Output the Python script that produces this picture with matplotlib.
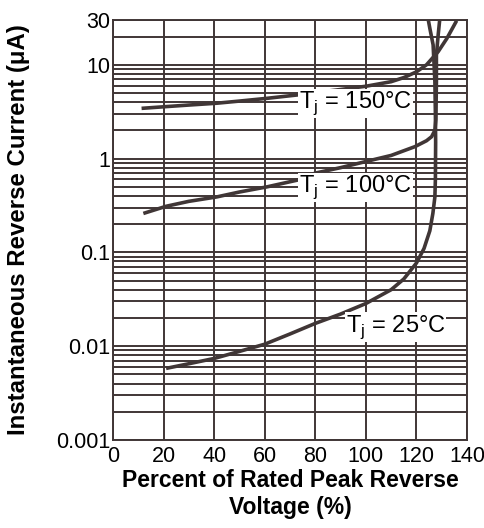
import numpy as np
import matplotlib
matplotlib.use('Agg')
import matplotlib.pyplot as plt
from matplotlib.ticker import LogLocator, FixedLocator, NullFormatter

# 데이터
x_25 = [21, 30, 40, 50, 60, 70, 80, 90, 100, 110, 115, 120, 123, 125.3, 126.5, 127.3, 127.5, 127.6, 127.5, 127.3, 126.6, 125.3, 124.7]
i_25 = [0.0058, 0.0065, 0.0074, 0.0088, 0.0105, 0.0135, 0.0175, 0.022, 0.0285, 0.04, 0.052, 0.077, 0.11, 0.17, 0.26, 0.39, 0.6, 1.5, 3.0, 6.6, 16.3, 24.5, 30]

x_100 = [12, 21, 30, 41, 50, 61, 73, 80, 90, 100, 110, 119.4, 124, 126, 127.3, 127.7, 127.9, 127.9, 128.6, 129.2]
i_100 = [0.26, 0.31, 0.35, 0.39, 0.44, 0.50, 0.59, 0.70, 0.80, 0.93, 1.08, 1.34, 1.55, 1.71, 2.0, 2.6, 6.6, 12.7, 20.8, 30]

x_150 = [11.3, 21, 30, 41, 50, 61, 73, 80, 90, 100, 110, 115, 120, 124, 128.6, 132, 135.9]
i_150 = [3.43, 3.58, 3.72, 3.89, 4.1, 4.39, 4.77, 5.05, 5.45, 5.9, 6.6, 7.3, 8.4, 10.0, 13.8, 19.0, 29.5]

x_ticks = [0, 20, 40, 60, 80, 100, 120, 140]
y_ticks = [0.001, 0.01, 0.1, 1, 10, 30]
y_tick_labels = ['0.001', '0.01', '0.1', '1', '10', '30']

labels = ['T$_\\mathregular{j}$ = 25°C', 'T$_\\mathregular{j}$ = 100°C', 'T$_\\mathregular{j}$ = 150°C']
label_pos = [(92, 0.016), (73.5, 0.49), (73.5, 3.9)]

plt.rcParams['font.family'] = ['Liberation Sans', 'DejaVu Sans']
line_color = '#403636'

fig = plt.figure(figsize=(4.85, 5.28), dpi=100)
ax = fig.add_axes([113 / 485, 1 - 440 / 528, 354 / 485, 420 / 528])

ax.set_yscale('log')
ax.set_xlim(0, 140)
ax.set_ylim(0.001, 30)

ax.xaxis.set_major_locator(FixedLocator(x_ticks))
ax.yaxis.set_major_locator(FixedLocator(y_ticks))
ax.set_yticklabels(y_tick_labels)
ax.yaxis.set_minor_locator(LogLocator(base=10, subs=np.arange(2, 10)))
ax.yaxis.set_minor_formatter(NullFormatter())

ax.grid(True, which='both', color=line_color, linewidth=1.4)
ax.tick_params(which='both', length=0, colors='black', labelsize=15.5)
ax.tick_params(axis='x', pad=4)
ax.tick_params(axis='y', pad=2)
for s in ax.spines.values():
    s.set_color(line_color)
    s.set_linewidth(1.4)

for xs, ys in [(x_25, i_25), (x_100, i_100), (x_150, i_150)]:
    ax.plot(xs, ys, color=line_color, linewidth=2.6, solid_capstyle='butt')

for txt, (tx, ty) in zip(labels, label_pos):
    ax.text(tx, ty, txt, fontsize=17, va='center', ha='left', zorder=5,
            bbox=dict(facecolor='white', edgecolor='none', pad=0.5))

ax.set_xlabel('Percent of Rated Peak Reverse\nVoltage (%)', fontsize=16.5,
              fontweight='bold', labelpad=2, linespacing=1.2)
ax.set_ylabel('Instantaneous Reverse Current (μA)', fontsize=17.3,
              fontweight='bold', va='center')
ax.yaxis.set_label_coords((19 - 113) / 354, 0.5)

fig.savefig('out.png', dpi=100)
